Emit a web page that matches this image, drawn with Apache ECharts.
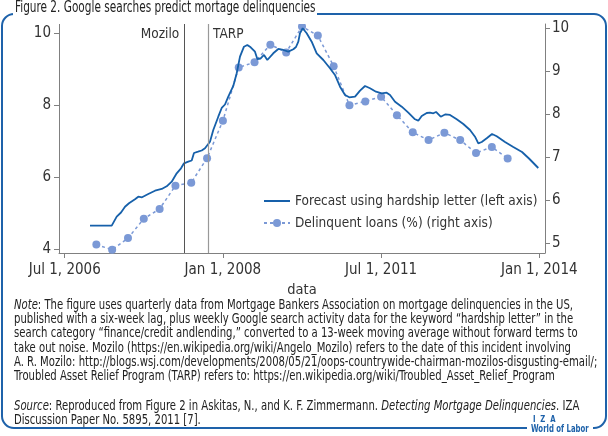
<!DOCTYPE html>
<html>
<head>
<meta charset="utf-8">
<script src="https://cdn.jsdelivr.net/npm/echarts@6/dist/echarts.min.js"></script>
<style>
html,body{margin:0;padding:0;background:#fff;}
#c{width:608px;height:436px;}
</style>
</head>
<body>
<div id="c"></div>
<script>
// ---- data (decimal years) ----
var forecastX = [2006.900, 2007.243, 2007.322, 2007.390, 2007.453, 2007.516, 2007.611, 2007.663, 2007.722, 2007.821,
  2007.927, 2008.033, 2008.112, 2008.191, 2008.270, 2008.338, 2008.385, 2008.453, 2008.507, 2008.543,
  2008.607, 2008.665, 2008.717, 2008.796, 2008.848, 2008.927, 2008.981, 2009.033, 2009.085, 2009.164,
  2009.218, 2009.270, 2009.333, 2009.386, 2009.439, 2009.507, 2009.544, 2009.597, 2009.650, 2009.702,
  2009.733, 2009.796, 2009.875, 2009.954, 2010.033, 2010.113, 2010.155, 2010.192, 2010.218, 2010.261,
  2010.324, 2010.403, 2010.482, 2010.587, 2010.692, 2010.771, 2010.851, 2010.930, 2010.997, 2011.088,
  2011.167, 2011.246, 2011.325, 2011.419, 2011.510, 2011.588, 2011.641, 2011.720, 2011.826, 2011.930,
  2012.036, 2012.088, 2012.142, 2012.221, 2012.273, 2012.325, 2012.368, 2012.442, 2012.518, 2012.589,
  2012.695, 2012.799, 2012.905, 2012.984, 2013.036, 2013.090, 2013.169, 2013.253, 2013.327, 2013.458,
  2013.589, 2013.727, 2013.837, 2013.984];
var forecastY = [4.656, 4.656, 4.906, 5.022, 5.183, 5.278, 5.389, 5.461, 5.444, 5.536,
  5.628, 5.675, 5.750, 5.878, 6.111, 6.250, 6.389, 6.433, 6.467, 6.675,
  6.711, 6.744, 6.806, 6.989, 7.314, 7.683, 7.925, 8.022, 8.239, 8.536,
  8.889, 9.350, 9.628, 9.675, 9.611, 9.489, 9.286, 9.300, 9.397, 9.258,
  9.211, 9.444, 9.564, 9.536, 9.489, 9.556, 9.619, 9.767, 10.000, 10.139,
  10.000, 9.767, 9.444, 9.258, 9.028, 8.842, 8.517, 8.286, 8.222, 8.239,
  8.406, 8.536, 8.472, 8.378, 8.333, 8.350, 8.286, 8.100, 7.961, 7.794,
  7.611, 7.572, 7.703, 7.786, 7.794, 7.778, 7.814, 7.683, 7.750, 7.731,
  7.611, 7.481, 7.314, 7.128, 6.944, 6.981, 7.083, 7.203, 7.139, 6.981,
  6.842, 6.703, 6.522, 6.258];
var delinqX = [2007.00, 2007.25, 2007.50, 2007.75, 2008.00, 2008.25, 2008.50, 2008.75, 2009.00, 2009.25,
  2009.50, 2009.75, 2010.00, 2010.25, 2010.50, 2010.75, 2011.00, 2011.25, 2011.50, 2011.75,
  2012.00, 2012.25, 2012.50, 2012.75, 2013.00, 2013.25, 2013.50];
var delinqY = [4.97, 4.85, 5.12, 5.57, 5.80, 6.34, 6.41, 6.98, 7.85, 9.09,
  9.21, 9.62, 9.44, 10.04, 9.83, 9.12, 8.21, 8.30, 8.41, 7.98,
  7.58, 7.40, 7.57, 7.40, 7.10, 7.24, 6.97];
var xTickValues = [2006.5, 2009, 2011.5, 2014];
var xTickLabels = ['Jul 1, 2006', 'Jan 1, 2008', 'Jul 1, 2011', 'Jan 1, 2014'];
var leftTicks = [4, 6, 8, 10];
var rightTicks = [5, 6, 7, 8, 9, 10];
var events = [{name: 'Mozilo', x: 2008.39}, {name: 'TARP', x: 2008.765}];
var seriesNames = ['Forecast using hardship letter (left axis)', 'Delinquent loans (%) (right axis)'];

var FONT = '"DejaVu Sans Condensed", "Liberation Sans Narrow", "Liberation Sans", sans-serif';
var BLUE = '#1e62aa';
var TXT = '#333';
var AX = '#808080';

function zip(a, b) { return a.map(function (v, i) { return [v, b[i]]; }); }

var chart = echarts.init(document.getElementById('c'), null, {renderer: 'canvas'});
var option = {
  animation: false,
  backgroundColor: '#fff',
  grid: {left: 59, right: 63, top: 24, bottom: 183},
  xAxis: {
    type: 'value', min: 2006.41, max: 2014.09,
    name: 'data', nameLocation: 'middle', nameGap: 25,
    nameTextStyle: {fontFamily: FONT, fontSize: 14.5, color: TXT},
    axisLine: {show: true, onZero: false, lineStyle: {color: AX, width: 1}},
    axisTick: {show: true, customValues: xTickValues, length: 5, lineStyle: {color: AX}},
    axisLabel: {customValues: xTickValues, margin: 10, fontFamily: FONT, fontSize: 15, color: TXT,
      formatter: function (v) { var i = xTickValues.indexOf(v); return i >= 0 ? xTickLabels[i] : ''; }},
    splitLine: {show: false}
  },
  yAxis: [{
    type: 'value', position: 'left', min: 3.897, max: 10.258,
    axisLine: {show: true, onZero: false, lineStyle: {color: AX, width: 1}},
    axisTick: {show: true, customValues: leftTicks, length: 5, lineStyle: {color: AX}},
    axisLabel: {customValues: leftTicks, margin: 8, fontFamily: FONT, fontSize: 15, color: TXT},
    splitLine: {show: false}
  }, {
    type: 'value', position: 'right', min: 4.774, max: 10.1,
    axisLine: {show: true, onZero: false, lineStyle: {color: AX, width: 1}},
    axisTick: {show: true, customValues: rightTicks, length: 5, lineStyle: {color: AX}},
    axisLabel: {customValues: rightTicks, margin: 7, fontFamily: FONT, fontSize: 15, color: TXT},
    splitLine: {show: false}
  }],
  legend: {
    left: 263, top: 193, orient: 'vertical', padding: 0,
    itemWidth: 26, itemHeight: 10, itemGap: 6, itemTextGap: 4,
    textStyle: {fontFamily: FONT, fontSize: 13.5, color: TXT, lineHeight: 16},
    data: [
      {name: seriesNames[0], itemStyle: {opacity: 0}},
      {name: seriesNames[1]}
    ]
  },
  series: [{
    name: seriesNames[0], type: 'line', yAxisIndex: 0,
    data: zip(forecastX, forecastY),
    symbol: 'none', showSymbol: false,
    lineStyle: {color: '#1660aa', width: 1.8},
    itemStyle: {color: '#1660aa'},
    z: 3,
    markLine: {
      silent: true, symbol: 'none', animation: false,
      label: {show: false},
      data: [
        {xAxis: events[0].x, lineStyle: {color: '#555', width: 1, type: 'solid'}},
        {xAxis: events[1].x, lineStyle: {color: '#999', width: 1.2, type: 'solid'}}
      ]
    }
  }, {
    name: seriesNames[1], type: 'line', yAxisIndex: 1,
    data: zip(delinqX, delinqY),
    symbol: 'circle', symbolSize: 8,
    lineStyle: {color: '#7b99d6', width: 1.5, type: [3, 3]},
    itemStyle: {color: '#7b99d6'},
    z: 2
  }]
};
chart.setOption(option);

var pxM = chart.convertToPixel({xAxisIndex: 0}, events[0].x);
var pxT = chart.convertToPixel({xAxisIndex: 0}, events[1].x);

var noteText = [
  '{i|Note}: The figure uses quarterly data from Mortgage Bankers Association on mortgage delinquencies in the US,',
  'published with a six-week lag, plus weekly Google search activity data for the keyword \u201chardship letter\u201d in the',
  'search category \u201cfinance/credit andlending,\u201d converted to a 13-week moving average without forward terms to',
  'take out noise. Mozilo (https://en.wikipedia.org/wiki/Angelo_Mozilo) refers to the date of this incident involving',
  'A. R. Mozilo: http://blogs.wsj.com/developments/2008/05/21/oops-countrywide-chairman-mozilos-disgusting-email/;',
  'Troubled Asset Relief Program (TARP) refers to: https://en.wikipedia.org/wiki/Troubled_Asset_Relief_Program'
].join('\n');
var sourceText = [
  '{i|Source}: Reproduced from Figure 2 in Askitas, N., and K. F. Zimmermann. {i|Detecting Mortgage Delinquencies}. IZA',
  'Discussion Paper No. 5895, 2011 [7].'
].join('\n');
var NOTE_FS = 13.5, NOTE_LH = 14.3, NOTE_SX = 0.83;

chart.setOption({
  graphic: [
    {type: 'rect', shape: {x: 2, y: 14, width: 604, height: 414, r: 12},
      style: {fill: 'none', stroke: BLUE, lineWidth: 2}, z: 100, silent: true},
    {type: 'rect', shape: {x: 13, y: 2, width: 304, height: 22},
      style: {fill: '#fff'}, z: 101, silent: true},
    {type: 'text', x: 15, y: 8.5, scaleX: 0.78, z: 102, silent: true,
      style: {text: 'Figure 2. Google searches predict mortage delinquencies', fontFamily: FONT, fontSize: 15,
        fill: '#222', textVerticalAlign: 'middle'}},
    {type: 'rect', shape: {x: 527, y: 414, width: 66, height: 22},
      style: {fill: '#fff'}, z: 101, silent: true},
    {type: 'text', x: 533, y: 420, scaleX: 0.85, z: 102, silent: true,
      style: {text: 'I  Z  A', fontFamily: FONT, fontSize: 9, fontWeight: 'bold', fill: BLUE, textVerticalAlign: 'middle'}},
    {type: 'text', x: 531, y: 429.5, scaleX: 0.77, z: 102, silent: true,
      style: {text: 'World of Labor', fontFamily: FONT, fontSize: 10, fontWeight: 'bold', fill: BLUE, textVerticalAlign: 'middle'}},
    {type: 'text', x: pxM - 5, y: 34, z: 50, silent: true,
      style: {text: events[0].name, fontFamily: FONT, fontSize: 13.5, fill: TXT, textAlign: 'right', textVerticalAlign: 'middle'}},
    {type: 'text', x: pxT + 5, y: 34, z: 50, silent: true,
      style: {text: events[1].name, fontFamily: FONT, fontSize: 13.5, fill: TXT, textAlign: 'left', textVerticalAlign: 'middle'}},
    {type: 'text', x: 14, y: 298, scaleX: NOTE_SX, z: 50, silent: true,
      style: {text: noteText, fontFamily: FONT, fontSize: NOTE_FS, lineHeight: NOTE_LH, fill: '#222',
        rich: {i: {fontStyle: 'italic', fontFamily: FONT, fontSize: NOTE_FS, lineHeight: NOTE_LH, fill: '#222'}}}},
    {type: 'text', x: 14, y: 399.5, scaleX: NOTE_SX, z: 50, silent: true,
      style: {text: sourceText, fontFamily: FONT, fontSize: NOTE_FS, lineHeight: NOTE_LH, fill: '#222',
        rich: {i: {fontStyle: 'italic', fontFamily: FONT, fontSize: NOTE_FS, lineHeight: NOTE_LH, fill: '#222'}}}}
  ]
});
</script>
</body>
</html>
